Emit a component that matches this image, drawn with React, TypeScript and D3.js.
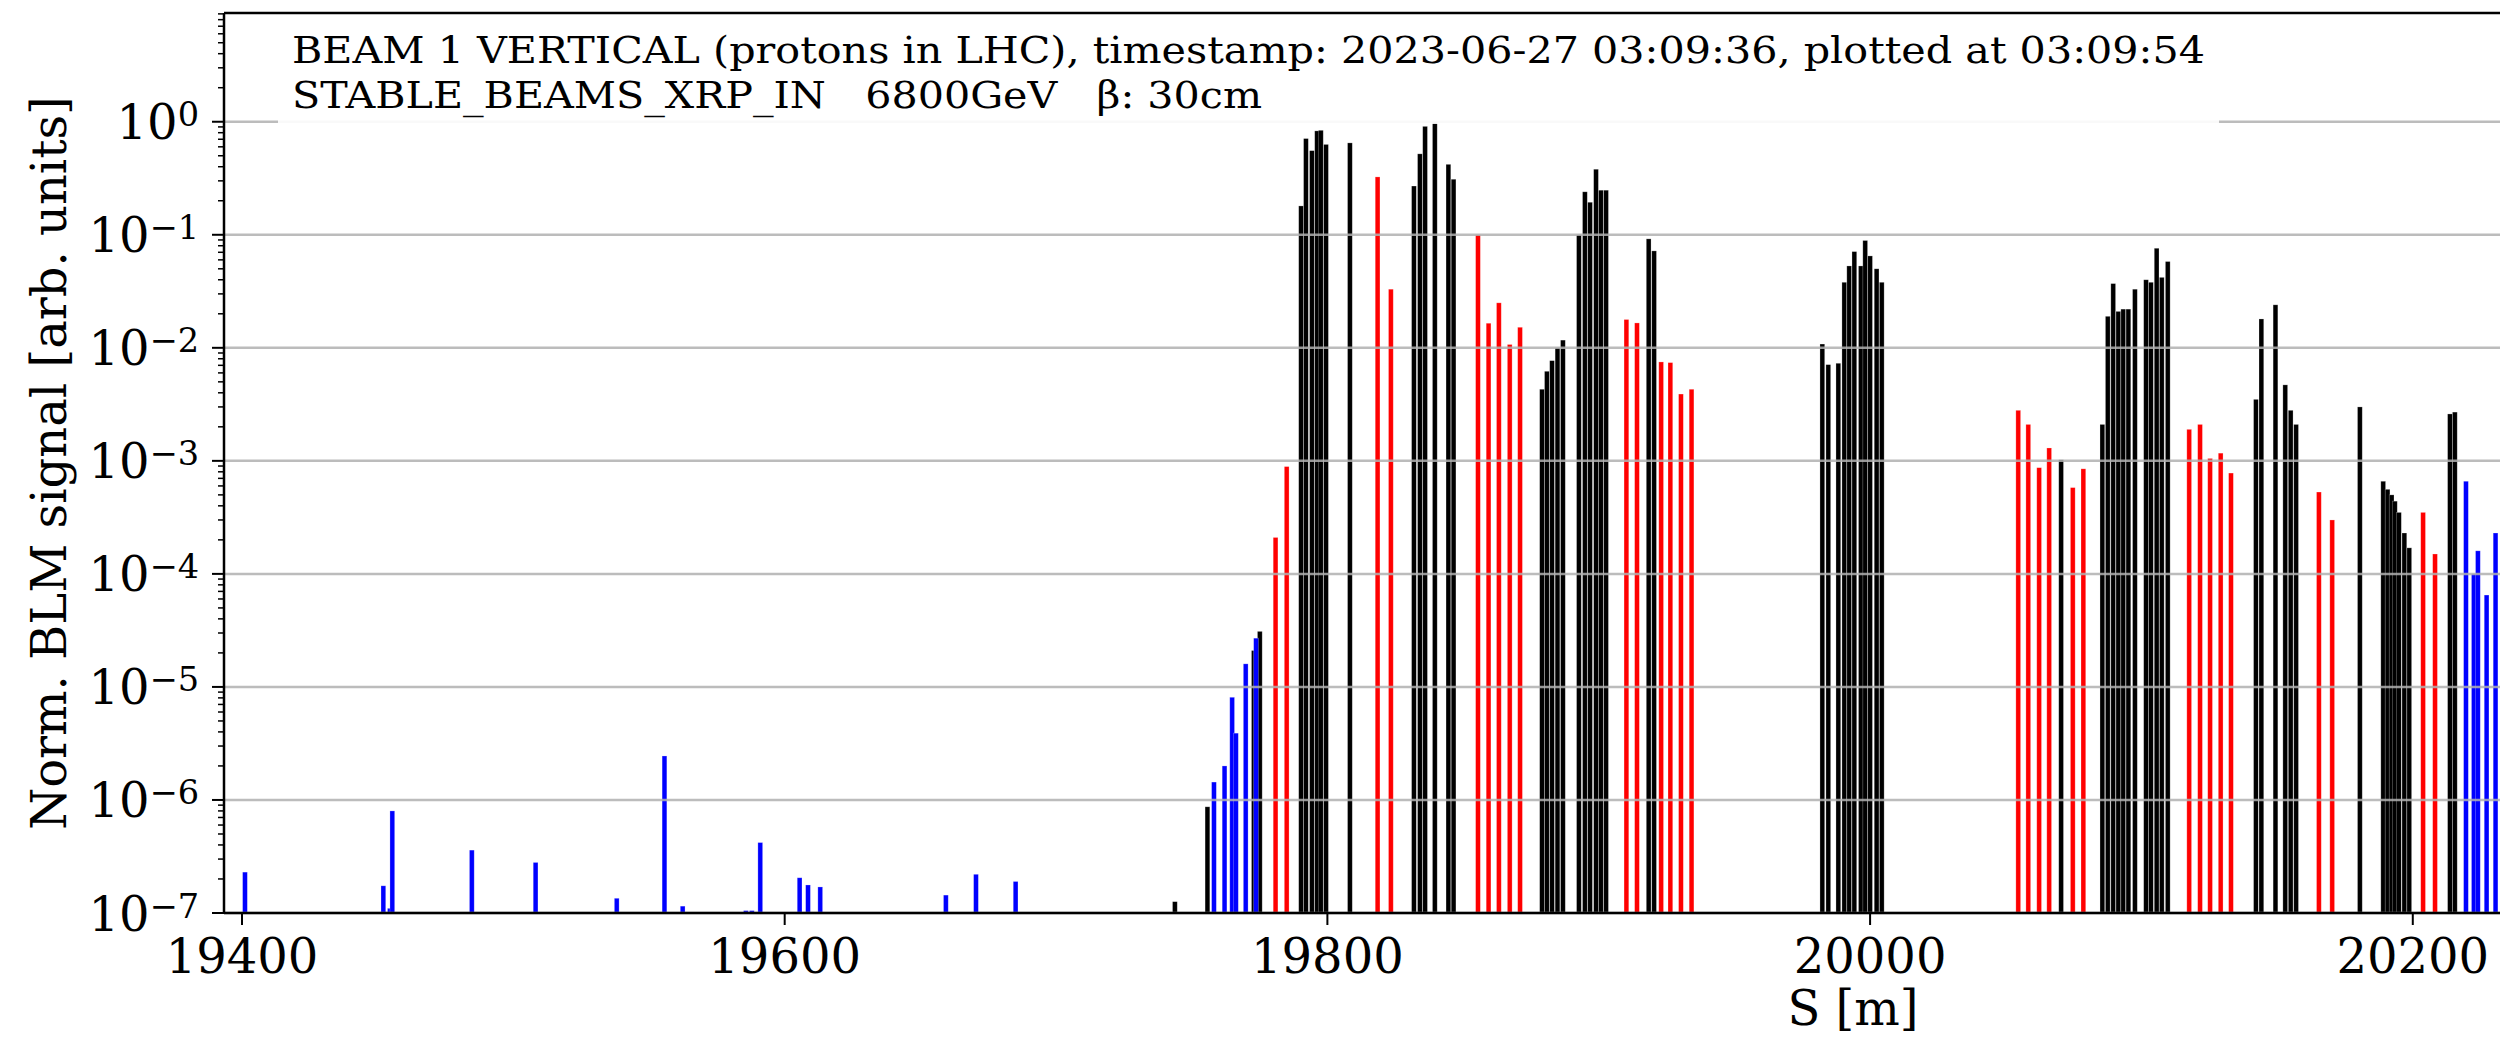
import {useEffect, useRef} from 'react';
import * as d3 from 'd3';

// positions along the ring (m) and normalised BLM signal, one pair of arrays per colour
const blueS = [19401.1, 19452.1, 19454.5, 19455.4, 19484.7, 19508.2, 19538.1, 19555.7, 19562.4, 19585.7, 19587.9, 19591.0, 19605.5, 19608.6, 19613.1, 19659.4, 19670.5, 19685.1, 19758.2, 19762.1, 19764.9, 19766.3, 19769.9, 19773.7, 20219.6, 20222.5, 20224.0, 20227.2, 20230.5];
const blueV = [2.3e-7, 1.74e-7, 1.1e-7, 8e-7, 3.6e-7, 2.8e-7, 1.35e-7, 2.45e-6, 1.15e-7, 1.05e-7, 1.05e-7, 4.2e-7, 2.05e-7, 1.77e-7, 1.7e-7, 1.44e-7, 2.2e-7, 1.9e-7, 1.44e-6, 2.0e-6, 8.1e-6, 3.9e-6, 1.6e-5, 2.7e-5, 6.6e-4, 1.0e-4, 1.6e-4, 6.5e-5, 2.3e-4];

const blackS = [19743.8, 19755.8, 19772.9, 19775.1, 19790.3, 19792.1, 19794.3, 19796.2, 19797.6, 19799.5, 19808.3, 19831.9, 19834.1, 19836.0, 19839.6, 19844.6, 19846.5, 19879.1, 19880.9, 19882.8, 19884.8, 19886.8, 19892.7, 19894.9, 19896.8, 19899.0, 19900.8, 19902.7, 19918.4, 19920.4, 19982.4, 19984.6, 19988.3, 19990.5, 19992.3, 19994.2, 19996.6, 19998.2, 20000.0, 20002.4, 20004.3, 20070.4, 20085.6, 20087.6, 20089.6, 20091.5, 20093.3, 20095.2, 20097.6, 20101.7, 20103.5, 20105.6, 20107.5, 20109.7, 20142.2, 20144.2, 20149.4, 20153.0, 20155.0, 20157.0, 20180.5, 20189.1, 20190.7, 20192.2, 20193.4, 20194.9, 20196.9, 20198.7, 20213.7, 20215.5];
const blackV = [1.26e-7, 8.7e-7, 2.1e-5, 3.1e-5, 0.18, 0.71, 0.555, 0.83, 0.84, 0.63, 0.65, 0.27, 0.52, 0.91, 1.0, 0.42, 0.31, 0.0043, 0.0062, 0.0077, 0.010, 0.0117, 0.10, 0.24, 0.194, 0.38, 0.248, 0.248, 0.092, 0.072, 0.0108, 0.0071, 0.0073, 0.038, 0.053, 0.071, 0.053, 0.089, 0.065, 0.05, 0.038, 0.00102, 0.0021, 0.019, 0.037, 0.021, 0.022, 0.022, 0.033, 0.04, 0.038, 0.076, 0.042, 0.058, 0.0035, 0.018, 0.024, 0.0047, 0.0028, 0.0021, 0.003, 0.00066, 0.00056, 0.0005, 0.00044, 0.00035, 0.00023, 0.00017, 0.0026, 0.0027];

const redS = [19780.9, 19785.0, 19818.5, 19823.4, 19855.5, 19859.4, 19863.2, 19867.2, 19871.0, 19910.2, 19914.1, 19923.0, 19926.4, 19930.3, 19934.2, 20054.6, 20058.3, 20062.3, 20066.0, 20074.7, 20078.6, 20117.6, 20121.6, 20125.3, 20129.2, 20133.0, 20165.4, 20170.3, 20203.8, 20208.2];
const redV = [2.1e-4, 8.9e-4, 0.325, 0.033, 0.1, 0.0165, 0.025, 0.0107, 0.0152, 0.0178, 0.0166, 0.0075, 0.0074, 0.0039, 0.0043, 0.0028, 0.0021, 0.00087, 0.0013, 0.00058, 0.00085, 0.0019, 0.0021, 0.00105, 0.00117, 0.00078, 0.00053, 0.0003, 0.00035, 0.00015];

const xTicks = [19400, 19600, 19800, 20000, 20200];
const yTicks = [1e-7, 1e-6, 1e-5, 1e-4, 1e-3, 1e-2, 1e-1, 1e0];
const yTickExp = ['−7', '−6', '−5', '−4', '−3', '−2', '−1', '0'];

const title1 = 'BEAM 1 VERTICAL (protons in LHC), timestamp: 2023-06-27 03:09:36, plotted at 03:09:54';
const title2 = 'STABLE_BEAMS_XRP_IN   6800GeV   β: 30cm';

export default function App() {
    const ref = useRef<SVGSVGElement>(null);

    useEffect(() => {
        const width = 2500;
        const height = 1045;
        const left = 224;
        const top = 13;
        const bottom = 913;
        const font = 'DejaVu Serif';

        const svg = d3.select(ref.current);
        svg.selectAll('*').remove();
        svg.attr('viewBox', `0 0 ${width} ${height}`);

        const x = d3.scaleLinear().domain([19393.37, 20232.14]).range([left, width]);
        const y = d3.scaleLog().domain([1e-7, Math.pow(10, 0.962)]).range([bottom, top]);
        const barW = 1.75;

        const series = [
            {color: '#000000', s: blackS, v: blackV},
            {color: '#ff0000', s: redS, v: redV},
            {color: '#0000ff', s: blueS, v: blueV},
        ];

        series.forEach((ser) => {
            svg
                .append('g')
                .selectAll('rect')
                .data(ser.s.map((s, i) => ({s, v: ser.v[i]})))
                .enter()
                .append('rect')
                .attr('x', (d) => x(d.s - barW / 2))
                .attr('width', x(barW) - x(0))
                .attr('y', (d) => y(d.v))
                .attr('height', (d) => bottom - y(d.v))
                .attr('fill', ser.color)
                .attr('stroke', 'rgba(255,255,255,0.35)')
                .attr('stroke-width', 0.7);
        });

        // horizontal grid at each decade (matplotlib draws it above patches)
        svg
            .append('g')
            .selectAll('line')
            .data(yTicks)
            .enter()
            .append('line')
            .attr('x1', left)
            .attr('x2', width)
            .attr('y1', (d) => y(d))
            .attr('y2', (d) => y(d))
            .attr('stroke', '#b0b0b0')
            .attr('stroke-opacity', 0.85)
            .attr('stroke-width', 2.5);

        // text box
        svg
            .append('rect')
            .attr('x', 278)
            .attr('y', 18)
            .attr('width', 2219 - 278)
            .attr('height', 106)
            .attr('fill', 'white')
            .attr('fill-opacity', 0.9);

        const t = svg.append('g').attr('font-family', font).attr('font-size', 38).attr('fill', '#000');
        t.append('text')
            .attr('x', 292)
            .attr('y', 63)
            .attr('textLength', 1913)
            .attr('lengthAdjust', 'spacingAndGlyphs')
            .style('white-space', 'pre')
            .text(title1);
        t.append('text')
            .attr('x', 292)
            .attr('y', 108)
            .attr('textLength', 970)
            .attr('lengthAdjust', 'spacingAndGlyphs')
            .style('white-space', 'pre')
            .text(title2);

        // spines
        const spine = svg.append('g').attr('stroke', '#000').attr('stroke-width', 2.5);
        spine.append('line').attr('x1', left).attr('x2', left).attr('y1', top).attr('y2', bottom);
        spine.append('line').attr('x1', left).attr('x2', width).attr('y1', bottom).attr('y2', bottom);
        spine.append('line').attr('x1', left).attr('x2', width).attr('y1', top).attr('y2', top);

        // x ticks
        const xt = svg.append('g');
        xTicks.forEach((v) => {
            xt.append('line')
                .attr('x1', x(v))
                .attr('x2', x(v))
                .attr('y1', bottom)
                .attr('y2', bottom + 12)
                .attr('stroke', '#000')
                .attr('stroke-width', 2);
            xt.append('text')
                .attr('x', x(v))
                .attr('y', 973)
                .attr('text-anchor', 'middle')
                .attr('font-family', font)
                .attr('font-size', 48)
                .text(v);
        });

        // y minor ticks
        const minor: number[] = [];
        for (let e = -7; e <= 0; e++) {
            for (let k = 2; k <= 9; k++) {
                const v = k * Math.pow(10, e);
                if (v <= y.domain()[1]) minor.push(v);
            }
        }
        svg
            .append('g')
            .selectAll('line')
            .data(minor)
            .enter()
            .append('line')
            .attr('x1', left - 6)
            .attr('x2', left)
            .attr('y1', (d) => y(d))
            .attr('y2', (d) => y(d))
            .attr('stroke', '#000')
            .attr('stroke-width', 1.5);

        // y major ticks and labels
        const yt = svg.append('g');
        yTicks.forEach((v, i) => {
            yt.append('line')
                .attr('x1', left - 12)
                .attr('x2', left)
                .attr('y1', y(v))
                .attr('y2', y(v))
                .attr('stroke', '#000')
                .attr('stroke-width', 2);
            const lbl = yt
                .append('text')
                .attr('x', 199)
                .attr('y', y(v) + 17.5)
                .attr('text-anchor', 'end')
                .attr('font-family', font)
                .attr('font-size', 48);
            lbl.append('tspan').text('10');
            lbl.append('tspan').attr('font-size', 33.6).attr('dy', -13).text(yTickExp[i]);
        });

        // axis labels
        svg.append('text')
            .attr('x', 1853)
            .attr('y', 1025)
            .attr('text-anchor', 'middle')
            .attr('font-family', font)
            .attr('font-size', 48)
            .text('S [m]');
        svg.append('text')
            .attr('transform', 'translate(66, 463) rotate(-90)')
            .attr('text-anchor', 'middle')
            .attr('font-family', font)
            .attr('font-size', 48)
            .text('Norm. BLM signal [arb. units]');
    }, []);

    return (
        <svg
            ref={ref}
            width={2500}
            height={1045}
            style={{position: 'absolute', left: 0, top: 0, background: 'white'}}
        ></svg>
    );
}
